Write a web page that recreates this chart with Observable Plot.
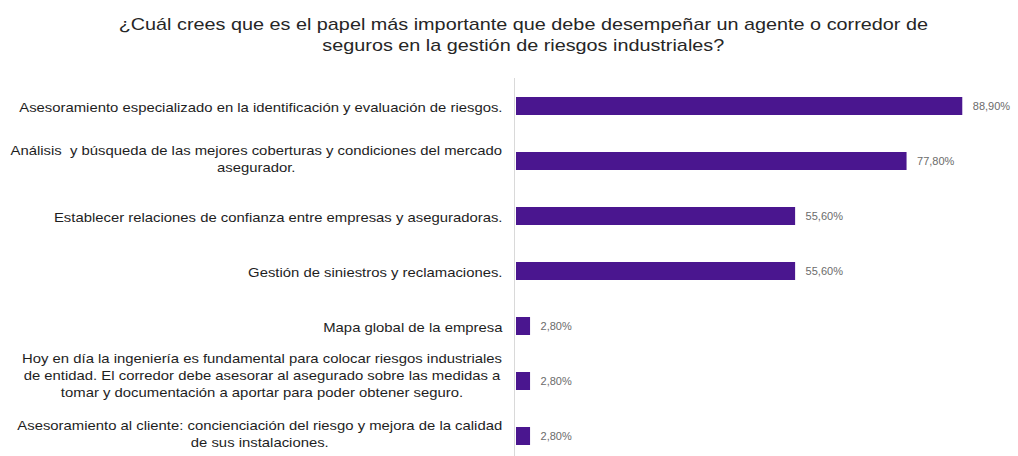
<!DOCTYPE html>
<html>
<head>
<meta charset="utf-8">
<script src="https://cdn.jsdelivr.net/npm/d3@7"></script>
<script src="https://cdn.jsdelivr.net/npm/@observablehq/plot@0.6"></script>
<style>
  html, body { margin: 0; padding: 0; background: #fff; }
  #wrap { width: 1018px; height: 456px; overflow: hidden; font-family: "Liberation Sans", Arial, sans-serif; }
  #title { height: 60px; box-sizing: border-box; padding-top: 14px; padding-left: 28px; text-align: center; font-size: 17px; line-height: 21px; color: #262626; }
  #title span { display: inline-block; transform: scaleX(1.165); transform-origin: center; }
</style>
</head>
<body>
<div id="wrap">
  <div id="title"><span>¿Cuál crees que es el papel más importante que debe desempeñar un agente o corredor de<br>seguros en la gestión de riesgos industriales?</span></div>
  <div id="chart"></div>
</div>
<script>
const categories = [
  "Asesoramiento especializado en la identificación y evaluación de riesgos.",
  "Análisis  y búsqueda de las mejores coberturas y condiciones del mercado\nasegurador.",
  "Establecer relaciones de confianza entre empresas y aseguradoras.",
  "Gestión de siniestros y reclamaciones.",
  "Mapa global de la empresa",
  "Hoy en día la ingeniería es fundamental para colocar riesgos industriales\nde entidad. El corredor debe asesorar al asegurado sobre las medidas a\ntomar y documentación a aportar para poder obtener seguro.",
  "Asesoramiento al cliente: concienciación del riesgo y mejora de la calidad\nde sus instalaciones."
];
const values = [88.9, 77.8, 55.6, 55.6, 2.8, 2.8, 2.8];
const valueLabels = ["88,90%", "77,80%", "55,60%", "55,60%", "2,80%", "2,80%", "2,80%"];

const data = categories.map((c, i) => ({category: c, value: values[i], label: valueLabels[i]}));

const chart = Plot.plot({
  width: 1018,
  height: 396,
  marginLeft: 516,
  marginRight: 0,
  marginTop: 30,
  marginBottom: 4,
  style: {fontFamily: "'Liberation Sans', Arial, sans-serif", background: "#fff"},
  x: {domain: [0, 100], axis: null},
  y: {domain: categories, paddingInner: 0.67, paddingOuter: 0.1, label: null, tickSize: 0, tickPadding: 13},
  marks: [
    Plot.ruleX([0], {stroke: "#d9d9d9", strokeWidth: 1, insetTop: -12, insetBottom: -10, dx: -2}),
    Plot.barX(data, {x: "value", y: "category", fill: "#4a168f"}),
    Plot.text(data, {x: "value", y: "category", text: "label", textAnchor: "start", dx: 10, fill: "#6b6b6b", fontSize: 11}),
    Plot.axisY({tickSize: 0, tickPadding: 14, fontSize: 12, fill: "#1e1e1e", label: null, lineHeight: 1.45})
  ]
});
document.getElementById("chart").appendChild(chart);

// center multi-line labels within their right-aligned block, and widen like the reference
d3.select(chart).selectAll("[aria-label='y-axis tick label'] text").each(function() {
  const tspans = this.querySelectorAll("tspan");
  let shift = 0;
  if (tspans.length >= 2) {
    const w = this.getBBox().width;
    this.setAttribute("text-anchor", "middle");
    tspans.forEach(t => t.setAttribute("x", (+(t.getAttribute("x") || 0)) - w / 2));
    shift = -(tspans.length - 1) * 3.5;
  }
  const tr = this.getAttribute("transform") || "";
  this.setAttribute("transform", tr + ` translate(0,${shift}) scale(1.24,1)`);
});
</script>
</body>
</html>
